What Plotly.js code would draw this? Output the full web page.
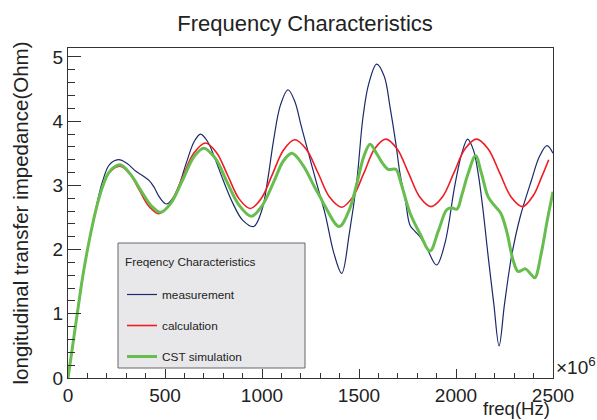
<!DOCTYPE html>
<html>
<head>
<meta charset="utf-8">
<script src="https://cdn.plot.ly/plotly-3.0.1.min.js"></script>
<style>html,body{margin:0;padding:0;background:#fff;}#chart{width:597px;height:420px;}</style>
</head>
<body>
<div id="chart"></div>
<script>
// ---- data (frequency in units of 10^6 Hz) ----
const measFreq = [0,41,76,110,144,178,213,260,305,350,391,420,442,475,508,540,570,610,650,683,720,760,800,850,900,957,1000,1030,1060,1095,1134,1170,1200,1231,1280,1326,1370,1411,1450,1489,1520,1550,1591,1630,1660,1690,1711,1740,1763,1790,1814,1850,1900,1943,1994,2030,2060,2090,2114,2140,2166,2195,2222,2250,2286,2330,2389,2430,2469,2500];
const measZ    = [0,0.86,1.58,2.15,2.65,3.06,3.32,3.40,3.34,3.22,3.14,3.07,2.98,2.80,2.71,2.80,2.98,3.35,3.68,3.80,3.68,3.40,3.08,2.72,2.46,2.36,2.62,3.10,3.71,4.25,4.49,4.30,3.95,3.60,3.05,2.55,1.95,1.63,2.25,3.08,4.05,4.58,4.89,4.70,4.22,3.65,3.19,2.75,2.38,2.28,2.20,2.02,1.76,2.10,3.00,3.50,3.72,3.55,3.19,2.60,1.89,1.15,0.50,1.15,1.89,2.50,3.08,3.45,3.62,3.50];

const calcFreq = [0,41,76,110,144,178,213,267,317,367,418,468,528,588,648,708,766,824,882,940,997,1054,1111,1168,1229,1290,1350,1411,1468,1525,1581,1638,1696,1755,1813,1871,1930,1989,2047,2106,2165,2225,2284,2343,2400,2440,2478];
const calcZ    = [0,0.86,1.58,2.15,2.62,2.97,3.20,3.30,3.19,2.93,2.67,2.56,2.72,3.11,3.50,3.66,3.51,3.15,2.79,2.64,2.80,3.175,3.55,3.71,3.56,3.185,2.81,2.66,2.82,3.19,3.57,3.72,3.57,3.195,2.82,2.67,2.82,3.195,3.57,3.72,3.57,3.195,2.82,2.67,2.85,3.12,3.40];

const cstFreq = [0,41,76,110,144,178,213,268,320,380,430,477,530,590,650,700,760,820,880,945,1000,1060,1110,1154,1210,1270,1300,1326,1398,1450,1489,1525,1557,1590,1620,1650,1690,1715,1763,1814,1866,1910,1952,1977,2005,2030,2063,2101,2130,2166,2200,2230,2260,2294,2320,2358,2385,2406,2440,2470,2500];
const cstZ    = [0,0.86,1.58,2.15,2.62,2.98,3.21,3.32,3.18,2.90,2.68,2.58,2.72,3.08,3.45,3.58,3.42,3.05,2.70,2.52,2.68,3.05,3.38,3.50,3.32,2.98,2.82,2.67,2.36,2.62,3.03,3.45,3.64,3.50,3.35,3.25,3.25,3.05,2.57,2.25,1.98,2.30,2.62,2.65,2.63,2.85,3.19,3.46,3.20,2.82,2.68,2.57,2.30,1.84,1.66,1.70,1.62,1.56,1.95,2.45,2.90];

const seriesNames = ['measurement','calculation','CST simulation'];
const legendTitle = 'Freqency Characteristics';
const xTicks = [0,500,1000,1500,2000,2500];
const yTicks = [0,1,2,3,4,5];

const FONT = 'Liberation Sans, Arial, Helvetica, sans-serif';
// plot-area pixel helpers for placing the legend box (paper fractions)
const PX = v => (v - 68) / 485, PY = v => (378 - v) / 330;

const traces = [
  {x: measFreq, y: measZ, name: seriesNames[0], type:'scatter', mode:'lines',
   line:{color:'#1b2a6b', width:1.2, shape:'spline', smoothing:1}, legendgroup:'a'},
  {x: calcFreq, y: calcZ, name: seriesNames[1], type:'scatter', mode:'lines',
   line:{color:'#ee1c24', width:1.6, shape:'spline', smoothing:1}, legendgroup:'b'},
  {x: cstFreq, y: cstZ, name: seriesNames[2], type:'scatter', mode:'lines',
   line:{color:'#67bd4e', width:3, shape:'spline', smoothing:1}, legendgroup:'c'}
];

const layout = {
  width:597, height:420,
  margin:{l:68, r:44, t:48, b:42},
  paper_bgcolor:'#fff', plot_bgcolor:'#fff',
  font:{family:FONT, color:'#222', size:19},
  title:{text:'Frequency Characteristics', x:0.511, xref:'container', xanchor:'center', y:0.9445, yref:'container', yanchor:'middle', font:{size:22, color:'#222'}},
  xaxis:{range:[0,2500], tickvals:xTicks, ticktext:xTicks.map(String), ticks:'inside', ticklen:9, tickwidth:1, tickcolor:'#333',
         minor:{ticks:'inside', dtick:100, ticklen:5, tickcolor:'#333', tickwidth:1},
         showline:true, linecolor:'#333', linewidth:1, mirror:true, showgrid:false, zeroline:false,
         tickfont:{size:19}, automargin:false},
  yaxis:{range:[0,5.14], tickvals:yTicks, ticktext:yTicks.map(String), ticks:'inside', ticklen:13, tickwidth:1, tickcolor:'#333',
         minor:{ticks:'inside', dtick:0.2, ticklen:7, tickcolor:'#333', tickwidth:1},
         showline:true, linecolor:'#333', linewidth:1, mirror:true, showgrid:false, zeroline:false,
         tickfont:{size:19}, automargin:false,
         title:{text:'longitudinal transfer impedance(Ohm)', font:{size:20.5}, standoff:18}},
  showlegend:true,
  legend:{x:PX(122), y:PY(280), xanchor:'left', yanchor:'top', bgcolor:'rgba(0,0,0,0)', borderwidth:0,
          font:{size:11.8, color:'#222'}, traceorder:'grouped', tracegroupgap:12, itemwidth:30},
  shapes:[{type:'rect', xref:'paper', yref:'paper', x0:PX(118), x1:PX(305), y0:PY(368), y1:PY(243),
           fillcolor:'#e8e8ea', line:{color:'#666', width:1}, layer:'above'}],
  annotations:[
    {text:legendTitle, xref:'paper', yref:'paper', x:PX(123), y:PY(262), xanchor:'left', yanchor:'middle', showarrow:false, font:{size:11.8, color:'#222'}},
    {text:'freq(Hz)', xref:'paper', yref:'paper', x:1, y:0, xanchor:'right', yanchor:'bottom', yshift:-42, xshift:-2, borderpad:0, showarrow:false, font:{size:18.5}},
    {text:'×10<sup>6</sup>', xref:'paper', yref:'paper', x:1, y:0, xanchor:'left', yanchor:'bottom', xshift:1, yshift:-2, showarrow:false, font:{size:19}}
  ]
};

Plotly.newPlot('chart', traces, layout, {displayModeBar:false, staticPlot:true});
</script>
</body>
</html>
